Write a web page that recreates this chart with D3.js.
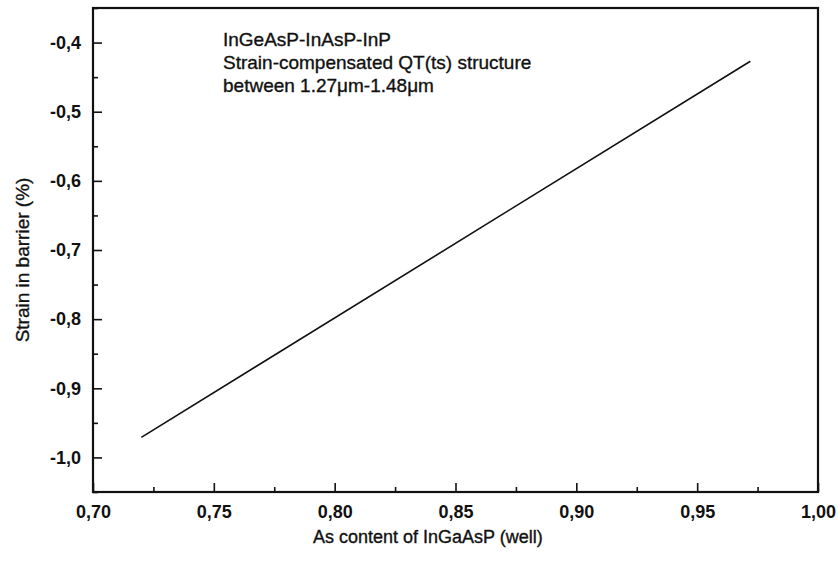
<!DOCTYPE html>
<html>
<head>
<meta charset="utf-8">
<script src="https://cdn.jsdelivr.net/npm/d3@7"></script>
<style>
    body { margin: 0; background: #fff; }
    svg text { font-family: Arial, "Liberation Sans", sans-serif; fill: #111; }
</style>
</head>
<body>
<script>
// values
var asContent = [0.72, 0.972];
var barrierStrain = [-0.971, -0.427];

var xTicks = [0.70, 0.75, 0.80, 0.85, 0.90, 0.95, 1.00];
var yTicks = [-1.0, -0.9, -0.8, -0.7, -0.6, -0.5, -0.4];
var xMinor = [0.725, 0.775, 0.825, 0.875, 0.925, 0.975];
var yMinor = [-1.05, -0.95, -0.85, -0.75, -0.65, -0.55, -0.45, -0.35];

var noteLines = ["InGeAsP-InAsP-InP",
    "Strain-compensated QT(ts) structure",
    "between 1.27\u03bcm-1.48\u03bcm"];

window.onload = (event) => {
    setChart();
};

function setChart() {
    var width = 838,
        height = 563,
        margin = {top: 8, right: 20, bottom: 71, left: 93};

    var svg = d3.select("body")
        .append("svg")
        .attr("width", width)
        .attr("height", height);

    var x = d3.scaleLinear()
        .domain([0.70, 1.00])
        .range([margin.left, width - margin.right]);

    var y = d3.scaleLinear()
        .domain([-1.05, -0.35])
        .range([height - margin.bottom, margin.top]);

    // bottom axis, ticks pointing inward
    svg.append("g")
        .attr("transform", "translate(0," + y.range()[0] + ")")
        .call(d3.axisBottom(x)
            .tickValues(xTicks)
            .tickSizeInner(-9)
            .tickSizeOuter(0)
            .tickPadding(13)
            .tickFormat(function(d) { return d3.format(".2f")(d).replace(".", ","); }));

    svg.append("g")
        .attr("transform", "translate(0," + y.range()[0] + ")")
        .call(d3.axisBottom(x).tickValues(xMinor).tickSizeInner(-5).tickSizeOuter(0).tickFormat(""));

    svg.append("g")
        .attr("transform", "translate(" + x.range()[0] + ",0)")
        .call(d3.axisLeft(y)
            .tickValues(yTicks)
            .tickSizeInner(-9)
            .tickSizeOuter(0)
            .tickPadding(12)
            .tickFormat(function(d) { return d3.format(".1f")(d).replace(".", ",").replace("\u2212", "-"); }));

    svg.append("g")
        .attr("transform", "translate(" + x.range()[0] + ",0)")
        .call(d3.axisLeft(y).tickValues(yMinor).tickSizeInner(-5).tickSizeOuter(0).tickFormat(""));

    svg.selectAll(".tick line").attr("stroke", "#111").attr("stroke-width", 1.6);
    svg.selectAll(".domain").remove();
    svg.selectAll(".tick text")
        .attr("font-size", 18)
        .attr("font-weight", "bold")
        .attr("fill", "#111");

    // frame
    svg.append("rect")
        .attr("x", x.range()[0])
        .attr("y", y.range()[1])
        .attr("width", x.range()[1] - x.range()[0])
        .attr("height", y.range()[0] - y.range()[1])
        .attr("fill", "none")
        .attr("stroke", "#111")
        .attr("stroke-width", 2.2);

    // data line
    var pts = asContent.map(function(d, i) { return [d, barrierStrain[i]]; });
    svg.append("path")
        .datum(pts)
        .attr("fill", "none")
        .attr("stroke", "#111")
        .attr("stroke-width", 1.6)
        .attr("d", d3.line()
            .x(function(d) { return x(d[0]); })
            .y(function(d) { return y(d[1]); }));

    // annotation
    svg.append("g").selectAll("text")
        .data(noteLines)
        .enter()
        .append("text")
        .attr("x", 223)
        .attr("y", function(d, i) { return 46 + i * 23; })
        .attr("font-size", 19)
        .attr("stroke", "#111")
        .attr("stroke-width", 0.35)
        .text(function(d) { return d; });

    // axis titles
    svg.append("text")
        .attr("x", 313)
        .attr("y", 543)
        .attr("font-size", 18)
        .attr("stroke", "#111")
        .attr("stroke-width", 0.35)
        .text("As content of InGaAsP (well)");

    svg.append("text")
        .attr("transform", "translate(29,260) rotate(-90)")
        .attr("text-anchor", "middle")
        .attr("font-size", 19)
        .attr("stroke", "#111")
        .attr("stroke-width", 0.35)
        .text("Strain in barrier (%)");
}
</script>
</body>
</html>
